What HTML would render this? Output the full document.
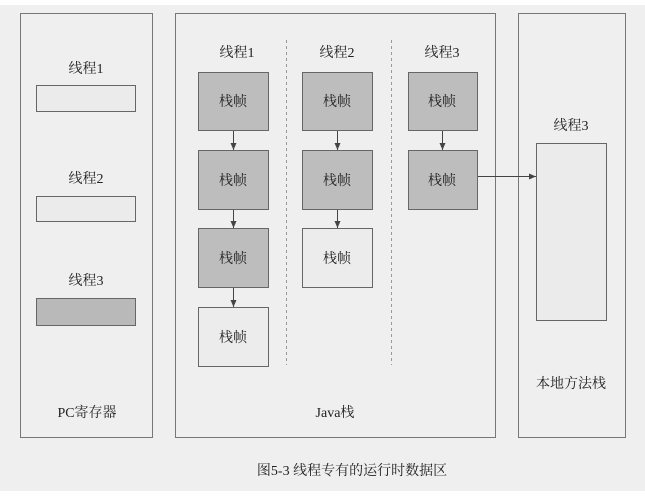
<!DOCTYPE html>
<html><head><meta charset="utf-8"><style>
body{margin:0;background:#fff}
svg text{font-family:"Liberation Serif","Noto Serif CJK SC",serif;fill:#222;font-size:14px;text-anchor:middle}
</style></head><body>
<svg width="645" height="491" viewBox="0 0 645 491" xmlns="http://www.w3.org/2000/svg">
<defs><marker id="a" markerWidth="8" markerHeight="8" refX="7" refY="4" orient="auto" markerUnits="userSpaceOnUse"><path d="M0,1 L7,4 L0,7 z" fill="#444"/></marker></defs>
<rect x="0" y="5" width="645" height="486" fill="#efefef"/>
<g fill="#efefef" stroke="#777" stroke-width="1">
<rect x="20.5" y="13.5" width="132" height="424"/>
<rect x="175.5" y="13.5" width="320" height="424"/>
<rect x="518.5" y="13.5" width="107" height="424"/>
</g>
<g stroke="#666" stroke-width="1">
<rect x="36.5" y="85.5" width="99" height="26" fill="#ebebeb"/>
<rect x="36.5" y="196.5" width="99" height="25" fill="#ebebeb"/>
<rect x="36.5" y="298.5" width="99" height="27" fill="#b9b9b9"/>
<rect x="198.5" y="72.5" width="70" height="58" fill="#bdbdbd"/>
<rect x="198.5" y="150.5" width="70" height="59" fill="#bdbdbd"/>
<rect x="198.5" y="228.5" width="70" height="59" fill="#bdbdbd"/>
<rect x="198.5" y="307.5" width="70" height="59" fill="#ececec"/>
<rect x="302.5" y="72.5" width="70" height="58" fill="#bdbdbd"/>
<rect x="302.5" y="150.5" width="70" height="59" fill="#bdbdbd"/>
<rect x="302.5" y="228.5" width="70" height="59" fill="#ececec"/>
<rect x="408.5" y="72.5" width="69" height="58" fill="#bdbdbd"/>
<rect x="408.5" y="150.5" width="69" height="59" fill="#bdbdbd"/>
<rect x="536.5" y="143.5" width="70" height="177" fill="#ebebeb"/>
</g>
<g stroke="#999" stroke-dasharray="3,3">
<line x1="286.5" y1="40" x2="286.5" y2="365"/>
<line x1="391.5" y1="40" x2="391.5" y2="365"/>
</g>
<g stroke="#444" stroke-width="1" marker-end="url(#a)">
<line x1="233.5" y1="131" x2="233.5" y2="150"/>
<line x1="233.5" y1="210" x2="233.5" y2="228"/>
<line x1="233.5" y1="288" x2="233.5" y2="307"/>
<line x1="337.5" y1="131" x2="337.5" y2="150"/>
<line x1="337.5" y1="210" x2="337.5" y2="228"/>
<line x1="442.5" y1="131" x2="442.5" y2="150"/>
<line x1="478" y1="176.5" x2="536" y2="176.5"/>
</g>
<text x="86" y="73">线程1</text>
<text x="86" y="183">线程2</text>
<text x="86" y="285">线程3</text>
<text x="237" y="57">线程1</text>
<text x="337" y="57">线程2</text>
<text x="442" y="57">线程3</text>
<text x="571" y="130">线程3</text>
<g font-size="14">
<text x="233" y="106">栈帧</text><text x="233" y="185">栈帧</text><text x="233" y="263">栈帧</text><text x="233" y="342">栈帧</text>
<text x="337" y="106">栈帧</text><text x="337" y="185">栈帧</text><text x="337" y="263">栈帧</text>
<text x="442" y="106">栈帧</text><text x="442" y="185">栈帧</text>
</g>
<text x="87" y="417">PC寄存器</text>
<text x="335" y="417">Java栈</text>
<text x="571" y="388">本地方法栈</text>
<text x="352" y="475">图5-3  线程专有的运行时数据区</text>
</svg>
</body></html>
